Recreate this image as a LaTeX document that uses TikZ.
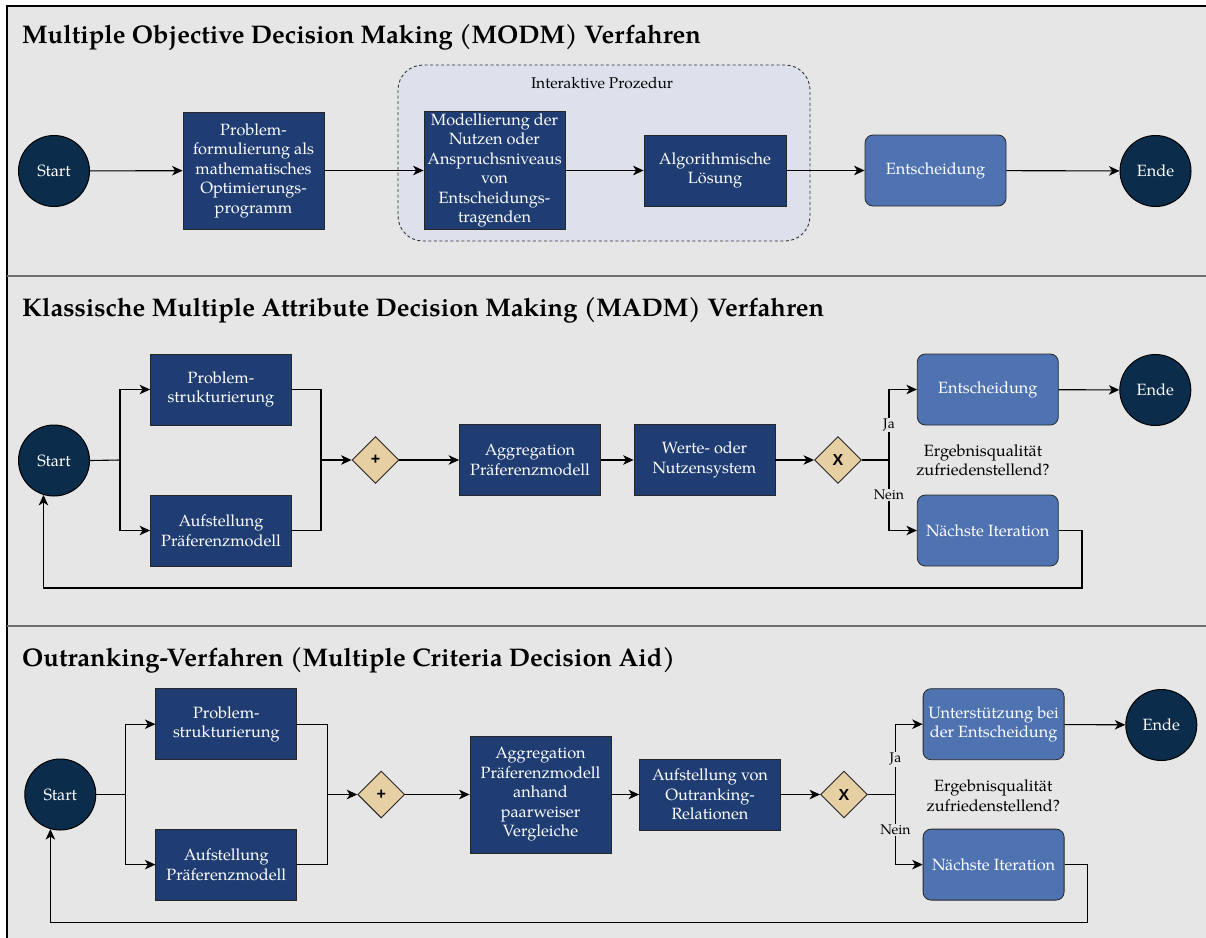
\documentclass[tikz,border=0pt]{standalone}
\usepackage{fontspec}
\setmainfont{TeX Gyre Pagella}
\newfontfamily\gwfont{Liberation Sans}
\usetikzlibrary{shapes.geometric,arrows.meta}

\definecolor{bgGray}{HTML}{E6E6E6}
\definecolor{sepGray}{HTML}{6E6E6E}
\definecolor{eventBlue}{HTML}{0B2C4A}
\definecolor{taskBlue}{HTML}{1F3D73}
\definecolor{decBlue}{HTML}{4F73B1}
\definecolor{gateTan}{HTML}{E6CFA3}
\definecolor{groupFill}{HTML}{DCE1EB}

\newcommand{\bodysize}{\fontsize{16.3}{19.5}\selectfont}

\tikzset{
  event/.style={circle, draw=black, line width=1pt, fill=eventBlue, text=white,
    minimum size=71pt, inner sep=0pt, font=\bodysize},
  task/.style={rectangle, draw=black!85, line width=0.8pt, fill=taskBlue, text=white,
    minimum width=141pt, minimum height=71pt, inner sep=2pt, align=center, font=\bodysize},
  tasktall/.style={task, minimum height=117pt},
  decision/.style={task, rounded corners=8pt, fill=decBlue},
  gateway/.style={diamond, draw=black!85, line width=0.9pt, fill=gateTan,
    minimum width=47pt, minimum height=47pt, inner sep=0pt,
    font=\gwfont\bfseries\fontsize{16}{16}\selectfont},
  conn/.style={line width=1.1pt, black},
  flow/.style={conn, -{Stealth[length=10.5pt,width=9.5pt,inset=3pt]}},
  lbl/.style={fill=bgGray, inner sep=1pt, font=\fontsize{14}{14}\selectfont},
  note/.style={align=center, font=\bodysize, text=black},
  heading/.style={anchor=base west, inner sep=0pt, font=\bfseries\fontsize{25.5}{30}\selectfont},
  groupbox/.style={draw=black!80, line width=0.9pt, dash pattern=on 3pt off 2.5pt,
    fill=groupFill, rounded corners=25pt},
}

\begin{document}
\begin{tikzpicture}[x=1pt,y=-1pt]
\useasboundingbox (0,0) rectangle (1206,937);
\clip (0,0) rectangle (1206,937);

% canvas, frame and section separators
\fill[bgGray] (7,6) rectangle (1220,950);
\draw[line width=1.5pt, black] (7,950) -- (7,6) -- (1220,6);
\draw[sepGray, line width=2pt] (7,276) -- (1220,276);
\draw[sepGray, line width=2pt] (7,626) -- (1220,626);

% ---------------- MODM ----------------
\node[heading] (h1) at (22,43) {Multiple Objective Decision Making (MODM) Verfahren};
\draw[groupbox] (398,65) rectangle (810,241);
\node[note, font=\fontsize{15.5}{18}\selectfont] (grp) at (602,83) {Interaktive Prozedur};

\node[event] (s1start) at (54,171) {Start};
\node[tasktall] (s1p) at (253.5,170.5) {Problem-\\formulierung als\\mathematisches\\Optimierungs-\\programm};
\node[tasktall] (s1m) at (494.5,170.5) {Modellierung der\\Nutzen oder\\Anspruchsniveaus\\von\\Entscheidungs-\\tragenden};
\node[task, minimum width=142pt] (s1a) at (715,170.5) {Algorithmische\\Lösung};
\node[decision] (s1e) at (935.5,170.5) {Entscheidung};
\node[event] (s1end) at (1155.5,171) {Ende};

\draw[flow] (s1start) -- (s1p);
\draw[flow] (s1p) -- (s1m);
\draw[flow] (s1m) -- (s1a);
\draw[flow] (s1a) -- (s1e);
\draw[flow] (s1e) -- (s1end);

% ---------------- MADM ----------------
\node[heading] (h2) at (22,316) {Klassische Multiple Attribute Decision Making (MADM) Verfahren};

\node[event] (s2start) at (54,460.5) {Start};
\node[task] (s2p) at (221,389.5) {Problem-\\strukturierung};
\node[task] (s2q) at (221,530.5) {Aufstellung\\Präferenzmodell};
\node[gateway] (s2plus) at (375.5,460) {+};
\node[task] (s2agg) at (530,460) {Aggregation\\Präferenzmodell};
\node[task] (s2wert) at (704.5,460) {Werte- oder\\Nutzensystem};
\node[gateway] (s2x) at (838,460) {X};
\node[decision] (s2e) at (987.8,389.5) {Entscheidung};
\node[decision] (s2n) at (987.8,530.5) {Nächste Iteration};
\node[event] (s2end) at (1155.3,390) {Ende};
\node[note] (s2q1) at (983,460) {Ergebnisqualität\\zufriedenstellend?};

\coordinate (s2fork) at (120,460);
\coordinate (s2join) at (321,460);
\coordinate (s2split) at (889,460);
\coordinate (s2loop) at (1082,588);

\draw[conn] (s2start.east) -- (s2fork);
\draw[flow] (s2fork) |- (s2p.west);
\draw[flow] (s2fork) |- (s2q.west);
\draw[conn] (s2p.east) -| (s2join);
\draw[conn] (s2q.east) -| (s2join);
\draw[flow] (s2join) -- (s2plus.west);
\draw[flow] (s2plus) -- (s2agg);
\draw[flow] (s2agg) -- (s2wert);
\draw[flow] (s2wert) -- (s2x);
\draw[conn] (s2x.east) -- (s2split);
\draw[flow] (s2split) |- node[lbl, pos=0.25] {Ja} (s2e.west);
\draw[flow] (s2split) |- node[lbl, pos=0.25] {Nein} (s2n.west);
\draw[flow] (s2e) -- (s2end);
\draw[flow] (s2n.east) -| (s2loop) -| (s2start.253);

% ---------------- Outranking ----------------
\node[heading] (h3) at (22,666) {Outranking-Verfahren (Multiple Criteria Decision Aid)};

\node[event] (s3start) at (60.3,794.5) {Start};
\node[task] (s3p) at (226.3,724.2) {Problem-\\strukturierung};
\node[task] (s3q) at (226.3,864.6) {Aufstellung\\Präferenzmodell};
\node[gateway] (s3plus) at (381.2,794.5) {+};
\node[tasktall] (s3agg) at (540.5,794.5) {Aggregation\\Präferenzmodell\\anhand\\paarweiser\\Vergleiche};
\node[task] (s3out) at (710,794.5) {Aufstellung von\\Outranking-\\Relationen};
\node[gateway] (s3x) at (844,794.5) {X};
\node[decision] (s3e) at (993.6,724.2) {Unterstützung bei\\der Entscheidung};
\node[decision] (s3n) at (993.6,864.6) {Nächste Iteration};
\node[event] (s3end) at (1161.3,725) {Ende};
\node[note] (s3q1) at (993.3,795.5) {Ergebnisqualität\\zufriedenstellend?};

\coordinate (s3fork) at (125.7,794.5);
\coordinate (s3join) at (327.3,794.5);
\coordinate (s3split) at (895.5,794.5);
\coordinate (s3loop) at (1087.7,922.7);

\draw[conn] (s3start.east) -- (s3fork);
\draw[flow] (s3fork) |- (s3p.west);
\draw[flow] (s3fork) |- (s3q.west);
\draw[conn] (s3p.east) -| (s3join);
\draw[conn] (s3q.east) -| (s3join);
\draw[flow] (s3join) -- (s3plus.west);
\draw[flow] (s3plus) -- (s3agg);
\draw[flow] (s3agg) -- (s3out);
\draw[flow] (s3out) -- (s3x);
\draw[conn] (s3x.east) -- (s3split);
\draw[flow] (s3split) |- node[lbl, pos=0.25] {Ja} (s3e.west);
\draw[flow] (s3split) |- node[lbl, pos=0.25] {Nein} (s3n.west);
\draw[flow] (s3e) -- (s3end);
\draw[flow] (s3n.east) -| (s3loop) -| (s3start.254);
\end{tikzpicture}
\end{document}
